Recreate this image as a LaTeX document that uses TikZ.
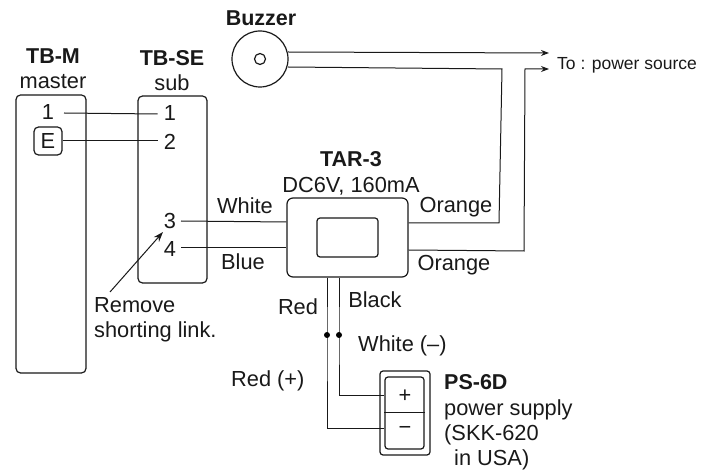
\documentclass[tikz,border=0pt]{standalone}
\usepackage{fontspec}
\setmainfont{Liberation Sans}
\usetikzlibrary{arrows.meta,calc}
\tikzset{
  wire/.style={draw=black!90,line width=1pt},
  feed/.style={wire,-{Stealth[length=8pt,width=6pt]}},
  boxrounded/.style={draw=black!90,line width=1.2pt,rounded corners=4.5pt,inner sep=0pt},
  lab/.style={inner sep=0pt,font=\fontsize{21.8}{25}\selectfont,text=black!90},
  labb/.style={lab,font=\fontsize{21.5}{25}\selectfont\bfseries},
  small/.style={lab,font=\fontsize{17.5}{20}\selectfont},
  junction/.style={circle,fill=black,inner sep=0pt,minimum size=6pt}
}
\begin{document}
\begin{tikzpicture}[x=1pt,y=-1pt]
\useasboundingbox (0,0) rectangle (713,470);
% boxes
\node[boxrounded,minimum width=70pt,minimum height=278pt] (tbm) at (51,234) {};
\node[boxrounded,minimum width=69pt,minimum height=187pt] (tbse) at (172.5,189.5) {};
\node[boxrounded,minimum width=28pt,minimum height=28pt] (e) at (48,141) {};
\node[lab] at (48,141) {E};
\node[boxrounded,minimum width=121pt,minimum height=79pt,rounded corners=6pt] (tar) at (347.5,237.5) {};
\node[boxrounded,minimum width=61pt,minimum height=39pt,rounded corners=3pt] (tarin) at (347.5,237.5) {};
\node[circle,draw=black!90,line width=1.2pt,minimum size=56pt,inner sep=0pt] (buz) at (260,59) {};
\node[circle,draw=black!90,line width=1.2pt,minimum size=11pt,inner sep=0pt] (buzin) at (260,59) {};
\node[boxrounded,minimum width=50pt,minimum height=84pt,rounded corners=3pt] (psout) at (405,413) {};
\node[boxrounded,minimum width=39pt,minimum height=72pt,rounded corners=3pt] (psin) at (404.5,413) {};
\draw[wire] (psin.west) -- (psin.east);
\node[lab] (plus) at (405,396) {+};
\node[lab] (minus) at (405,430) {\textminus};
% labels
\node[labb] (lm) at (53,56) {TB-M};
\node[lab] (lmaster) at (53,82) {master};
\node[labb] (lse) at (172,58) {TB-SE};
\node[lab] (lsub) at (172,83) {sub};
\node[labb] (lbuz) at (261,18) {Buzzer};
\node[lab] (n1m) at (48,112) {1};
\node[lab] (n1) at (170,113) {1};
\node[lab] (n2) at (170,142) {2};
\node[lab] (n3) at (170,221) {3};
\node[lab] (n4) at (170,249) {4};
\node[lab] at (245,206) {White};
\node[lab] at (243,262) {Blue};
\node[labb] at (351,159) {TAR-3};
\node[lab] at (351,186) {DC6V, 160mA};
\node[lab] at (456,207) {Orange};
\node[lab] at (454,265) {Orange};
\node[lab] at (298,307) {Red};
\node[lab] at (375,300) {Black};
\node[lab,anchor=west] at (358,346) {White (–)};
\node[lab,anchor=west] at (231,381) {Red (+)};
\node[small,anchor=west] (topow) at (557,65) {To : power source};
\node[lab,anchor=west] (rem) at (94,305) {Remove};
\node[lab,anchor=west] at (94,332) {shorting link.};
\node[labb,anchor=west] at (444,382) {PS-6D};
\node[lab,anchor=west] at (444,410) {power supply};
\node[lab,anchor=west] at (444,435) {(SKK-620};
\node[lab,anchor=west] at (454,460) {in USA)};
% connectors
\draw[wire] (64,113) coordinate(a1) -- ($(n1.west)+(-6,1)$);
\draw[wire] (e.east) -- ($(n2.west)+(-6,-1)$);
\draw[wire] (181,221) -- (tar.west |- 0,222);
\draw[wire] (181,248) -- (tar.west |- 0,248);
\coordinate (t1) at (549,53);
\coordinate (t2) at (549,69);
\draw[feed] (buz.center |- 0,52) ++(28,0) -- (t1);
\draw[wire] (288,67) -- (502,69) -- (499,223) -- (tar.east |- 0,223);
\draw[feed] (tar.east |- 0,250) -- (524,251) -- (525,69) -- (t2);
\coordinate (jr) at (327,335);
\coordinate (jb) at (339,335);
\draw[wire] (tar.south -| jr) -- (jr) -- (327,429) -- (psin.west |- 0,429);
\draw[wire] (tar.south -| jb) -- (jb) -- (339,396) -- (psin.west |- 0,396);
\node[junction] at (jr) {};
\node[junction] at (jb) {};
\draw[draw=black!90,line width=1pt,-{Stealth[length=10pt,width=7pt]}] (110,292) -- (163,232);
\end{tikzpicture}
\end{document}
